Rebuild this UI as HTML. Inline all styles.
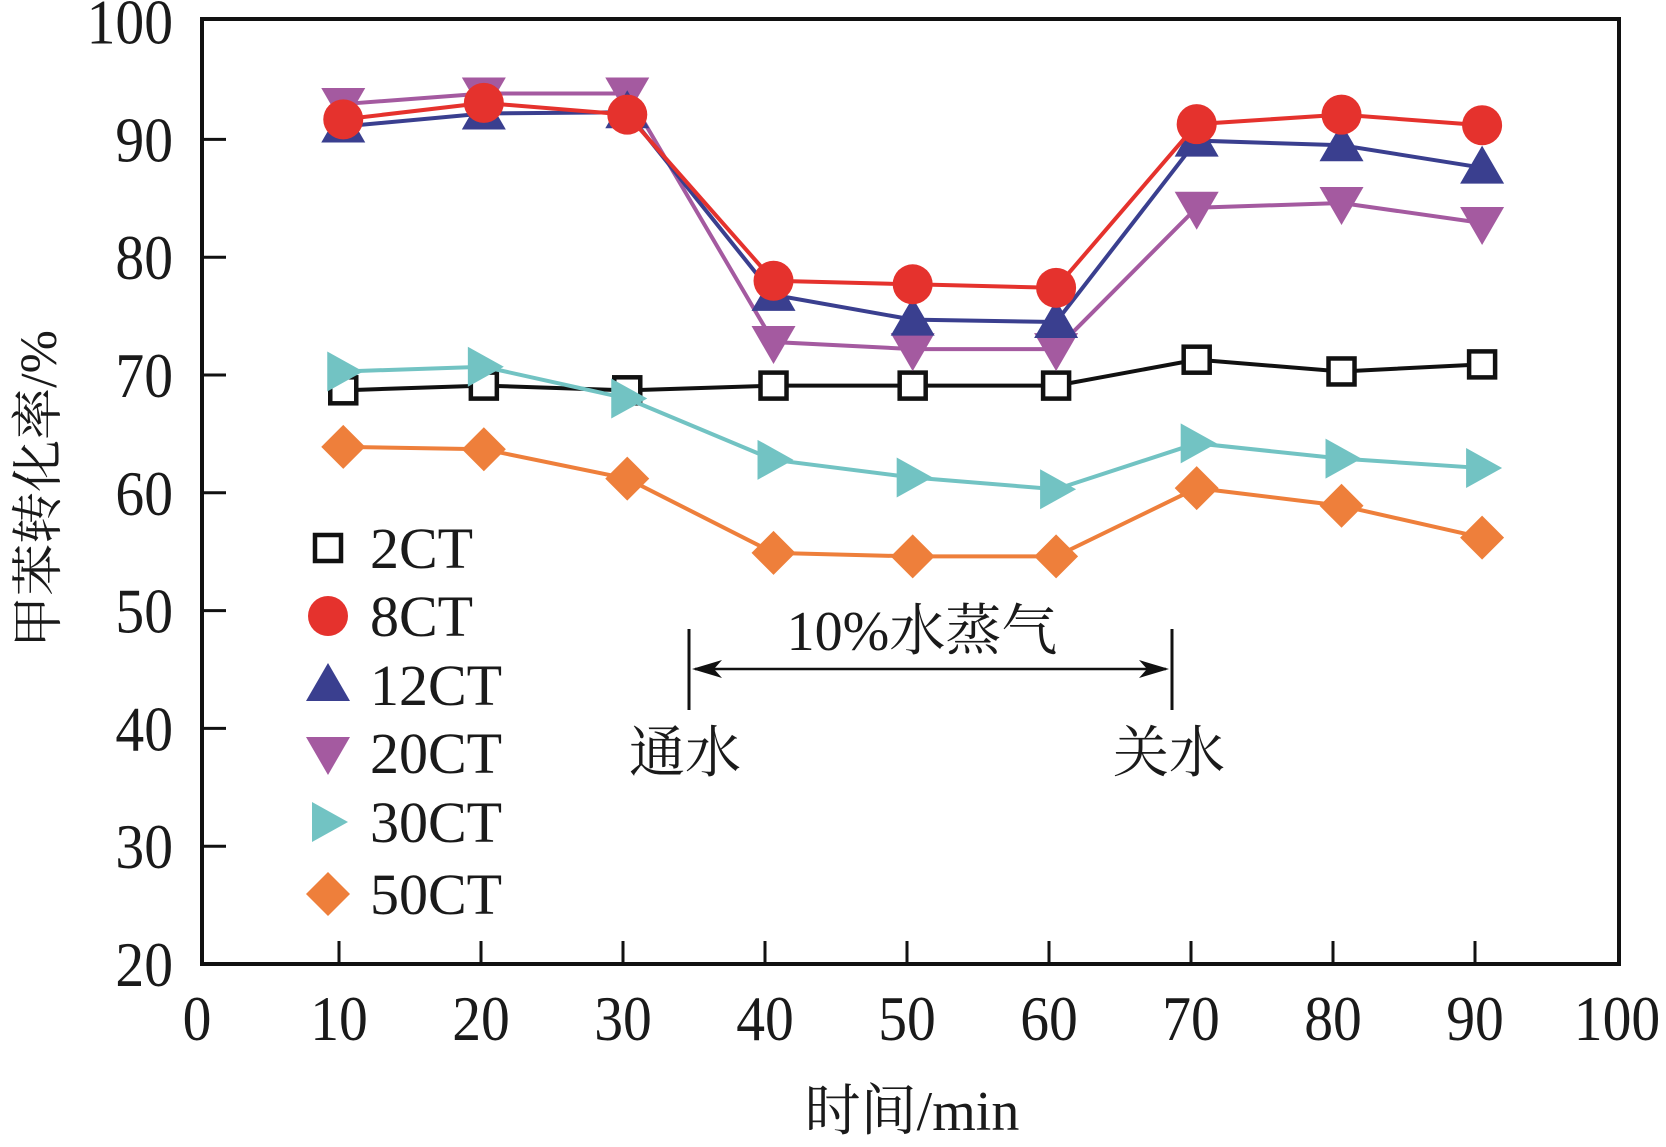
<!DOCTYPE html>
<html><head><meta charset="utf-8"><style>
html,body{margin:0;padding:0;background:#fff;}
svg{display:block;}
text{font-family:"Liberation Serif","Noto Serif CJK SC","Noto Sans CJK SC",serif;fill:#1a1a1a;}
</style></head><body>
<svg id="chart" width="1666" height="1147" viewBox="0 0 1666 1147" xmlns="http://www.w3.org/2000/svg">
<g id="plot"></g>
</svg>
<script>
const xTicks=[0,10,20,30,40,50,60,70,80,90,100];
const yTicks=[20,30,40,50,60,70,80,90,100];
const times=[10.3,20.2,30.3,40.6,50.4,60.5,70.4,80.6,90.5];
const s2CT=[68.7,69.1,68.7,69.1,69.1,69.1,71.3,70.3,70.9];
const s8CT=[91.7,93.1,92.1,78.0,77.7,77.4,91.3,92.1,91.2];
const s12CT=[91.1,92.2,92.3,76.8,74.7,74.5,89.9,89.5,87.6];
const s20CT=[93.0,93.9,93.9,72.8,72.2,72.2,84.2,84.6,82.9];
const s30CT=[70.3,70.7,68.0,62.8,61.3,60.3,64.2,62.9,62.1];
const s50CT=[63.9,63.7,61.2,54.9,54.6,54.6,60.4,58.9,56.2];
const seriesNames=["2CT","8CT","12CT","20CT","30CT","50CT"];

const NS="http://www.w3.org/2000/svg";
const g=document.getElementById('plot');
const X=v=>197+v*14.2;
const Y=v=>964-(v-20)*11.78;
function mk(tag,attrs,parent){const e=document.createElementNS(NS,tag);for(const k in attrs)e.setAttribute(k,attrs[k]);(parent||g).appendChild(e);return e;}

const frame=mk('rect',{x:202,y:19,width:1417,height:945,fill:'none',stroke:'#111','stroke-width':4});


xTicks.forEach(v=>{
  if(v>0&&v<100){const t=mk('line',{x1:X(v),x2:X(v),y1:964,y2:941,stroke:'#111','stroke-width':3});
  
  }
  const l=mk('text',{x:0,y:0,'font-size':64,'text-anchor':'middle',transform:`translate(${X(v)},1040) scale(0.9,1)`});l.textContent=v;
  
  
});
yTicks.forEach(v=>{
  if(v>20&&v<100){const t=mk('line',{x1:202,x2:226,y1:Y(v),y2:Y(v),stroke:'#111','stroke-width':3});
  
  }
  const l=mk('text',{x:0,y:0,'font-size':64,'text-anchor':'end',transform:`translate(173,${Y(v)+22}) scale(0.9,1)`});l.textContent=v;
  
  
});
const xt=mk('text',{x:912,y:1130,'font-size':56,'text-anchor':'middle'});xt.textContent='时间/min';


const yt=mk('text',{x:0,y:0,'font-size':52,'text-anchor':'middle',transform:'translate(56,489) rotate(-90)'});yt.textContent='甲苯转化率/%';



const ann=mk('g',{});


mk('line',{x1:689,x2:689,y1:629,y2:710,stroke:'#111','stroke-width':3},ann);
mk('line',{x1:1172,x2:1172,y1:629,y2:710,stroke:'#111','stroke-width':3},ann);
mk('line',{x1:695,x2:1166,y1:669,y2:669,stroke:'#111','stroke-width':2.5},ann);
mk('path',{d:'M692,669 l30,-9 l-8,9 l8,9 z',fill:'#111'},ann);
mk('path',{d:'M1169,669 l-30,-9 l8,9 l-8,9 z',fill:'#111'},ann);
const at=mk('text',{x:922,y:650,'font-size':56,'text-anchor':'middle'},ann);at.textContent='10%水蒸气';
const a1=mk('text',{x:685,y:772,'font-size':56,'text-anchor':'middle'},ann);a1.textContent='通水';
const a2=mk('text',{x:1169,y:772,'font-size':56,'text-anchor':'middle'},ann);a2.textContent='关水';

function marker(type,cx,cy,color,parent){
  if(type==='square')return mk('rect',{x:cx-13,y:cy-13,width:26,height:26,fill:'#fff',stroke:'#111','stroke-width':4.5},parent);
  if(type==='circle')return mk('circle',{cx:cx,cy:cy,r:20,fill:color},parent);
  if(type==='up')return mk('path',{d:`M${cx},${cy-22} L${cx+22},${cy+16} L${cx-22},${cy+16} Z`,fill:color},parent);
  if(type==='down')return mk('path',{d:`M${cx},${cy+22} L${cx+22},${cy-16} L${cx-22},${cy-16} Z`,fill:color},parent);
  if(type==='right')return mk('path',{d:`M${cx+20},${cy} L${cx-16},${cy-20} L${cx-16},${cy+20} Z`,fill:color},parent);
  if(type==='diamond')return mk('path',{d:`M${cx},${cy-22} L${cx+22},${cy} L${cx},${cy+22} L${cx-22},${cy} Z`,fill:color},parent);
}
const defs=[
 {name:'2CT',data:s2CT,color:'#111',m:'square',ly:548},
 {name:'8CT',data:s8CT,color:'#e5322d',m:'circle',ly:616},
 {name:'12CT',data:s12CT,color:'#3a3f8f',m:'up',ly:685},
 {name:'20CT',data:s20CT,color:'#a45aa0',m:'down',ly:753},
 {name:'30CT',data:s30CT,color:'#72c3c3',m:'right',ly:822},
 {name:'50CT',data:s50CT,color:'#ee7f3b',m:'diamond',ly:894}
];
const order=[0,5,4,3,2,1];
order.forEach(i=>{
  const d=defs[i];
  const sg=mk('g',{});
  
  
  const pts=d.data.map((v,j)=>X(times[j])+','+Y(v)).join(' ');
  const pl=mk('polyline',{points:pts,fill:'none',stroke:d.color,'stroke-width':4},sg);
  
  
  d.data.forEach((v,j)=>{
    const m=marker(d.m,X(times[j]),Y(v),d.color,sg);
    
    
  });
});
const lg=mk('g',{});


defs.forEach(d=>{
  const e=mk('g',{},lg);
  
  
  marker(d.m,328,d.ly,d.color,e);
  const t=mk('text',{x:370,y:d.ly+20,'font-size':58},e);t.textContent=d.name;
});
</script>
</body></html>
